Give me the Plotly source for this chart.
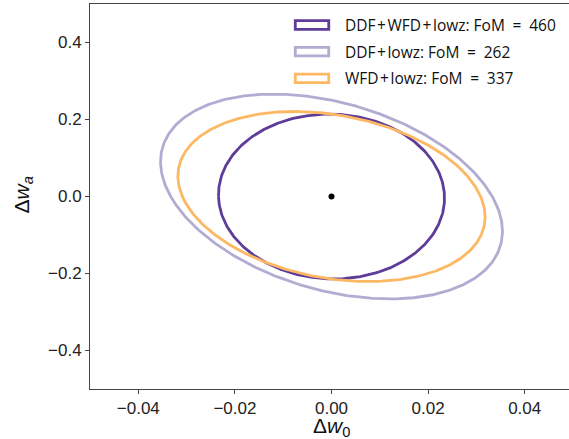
import numpy as np
import plotly.graph_objects as go

# Forecast constraints (1-sigma errors and correlation)
labels = ["DDF+WFD+lowz: FoM = 460", "DDF+lowz: FoM = 262", "WFD+lowz: FoM = 337"]
sigma_w0 = [0.01543, 0.02334, 0.02097]
sigma_wa = [0.1411, 0.1754, 0.1456]
rho = [-0.02, -0.34, -0.24]
colors = ["#5e3c99", "#b2abd2", "#fdb863"]
center_w0 = [0.0]
center_wa = [0.0]
dchi2 = 2.3  # 68% two-parameter contour
xticks = [-0.04, -0.02, 0.0, 0.02, 0.04]
xticklabels = ["\u22120.04", "\u22120.02", "0.00", "0.02", "0.04"]
yticks = [-0.4, -0.2, 0.0, 0.2, 0.4]
yticklabels = ["\u22120.4", "\u22120.2", "0.0", "0.2", "0.4"]

W, H = 569, 439
L, T, B = 89.5, 4, 50
full_right = 573
PW, PH = W - L, H - T - B


def px(xp):
    return (xp - L) / PW


def py(yp):
    return 1 - (yp - T) / PH


fig = go.Figure()
t = np.linspace(0, 2 * np.pi, 400)
for i in range(len(labels)):
    sx, sy, r = sigma_w0[i], sigma_wa[i], rho[i]
    cov = np.array([[sx * sx, r * sx * sy], [r * sx * sy, sy * sy]])
    vals, vecs = np.linalg.eigh(cov)
    circ = np.vstack([np.cos(t), np.sin(t)])
    pts = vecs @ (np.sqrt(dchi2 * vals)[:, None] * circ)
    fig.add_trace(go.Scatter(
        x=pts[0] + center_w0[0], y=pts[1] + center_wa[0], mode="lines",
        line=dict(color=colors[i], width=2.8), name=labels[i],
        hoverinfo="skip", showlegend=False))

fig.add_trace(go.Scatter(x=center_w0, y=center_wa, mode="markers",
                         marker=dict(color="black", size=6), showlegend=False,
                         hoverinfo="skip"))

# Legend drawn manually (rectangle patches like the original)
for i, lab in enumerate(labels):
    yc = 25 + i * 26.67
    fig.add_shape(type="rect", xref="paper", yref="paper",
                  x0=px(295), x1=px(328.5), y0=py(yc - 4.3), y1=py(yc + 4.3),
                  line=dict(color=colors[i], width=2.8), fillcolor="white")
    txt = lab.replace(" = ", "\u2002=\u2002").replace("+", "\u200a+\u200a")
    fig.add_annotation(xref="paper", yref="paper", x=px(343), y=py(yc),
                       xanchor="left", yanchor="middle", showarrow=False,
                       text=txt,
                       font=dict(family="Open Sans, Lato", size=15.5, color="#111"))

# Axis titles
fig.add_annotation(xref="paper", yref="paper", x=px(331), y=py(427),
                   xanchor="center", yanchor="middle", showarrow=False,
                   text="\u0394<i>w</i><sub>0</sub>",
                   font=dict(family="Liberation Sans, Arial", size=21, color="#111"))
fig.add_annotation(xref="paper", yref="paper", x=px(22), y=py(195),
                   xanchor="center", yanchor="middle", showarrow=False, textangle=-90,
                   text="\u0394<i>w</i><sub><i>a</i></sub>",
                   font=dict(family="Liberation Sans, Arial", size=21, color="#111"))

xr = [-0.05, -0.05 + 0.1 * (W - L) / (full_right - L)]

axis_common = dict(showgrid=False, zeroline=False, showline=True, automargin=False,
                   linecolor="#444444", linewidth=1, ticks="outside",
                   ticklen=4, tickcolor="#444444",
                   tickfont=dict(family="Liberation Sans, Arial", size=17, color="#222"))

fig.update_layout(
    width=W, height=H, margin=dict(l=L, r=0, t=T, b=B),
    plot_bgcolor="white", paper_bgcolor="white",
    xaxis=dict(range=xr, tickvals=xticks, ticktext=xticklabels, mirror=True, **axis_common),
    yaxis=dict(range=[-0.5, 0.5], tickvals=yticks, ticktext=yticklabels, **axis_common),
    showlegend=False, hovermode=False,
)

fig.write_html("out.html", config={"displayModeBar": False},
               post_script="document.body.style.margin='0';document.body.style.overflow='hidden';")
